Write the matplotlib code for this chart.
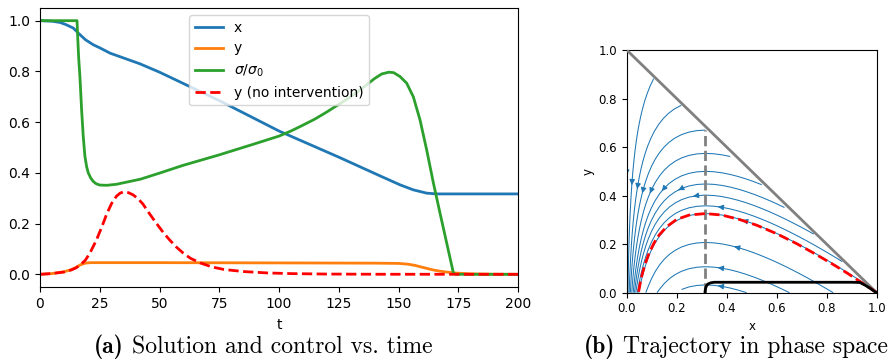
import numpy as np
import matplotlib
matplotlib.use("Agg")
import matplotlib.pyplot as plt

# ---------------- left panel data ----------------
t_x = [0, 5, 8.4, 11, 13.9, 16.7, 19, 22.3, 25, 29.3, 41.8, 50, 75, 100, 125, 142.3,
       150.6, 156.2, 161.8, 166, 170, 180, 200]
x_vals = [1.0, 0.998, 0.993, 0.984, 0.971, 0.945, 0.925, 0.905, 0.893, 0.872, 0.83, 0.797,
          0.685, 0.565, 0.462, 0.388, 0.353, 0.333, 0.32, 0.317, 0.317, 0.317, 0.317]

t_y = [0, 5, 10, 13, 15, 17, 19, 21, 25, 50, 100, 140, 150, 154, 157, 159, 162, 164.6,
       167, 170, 174, 180, 190, 200]
y_vals = [0.0, 0.003, 0.01, 0.018, 0.027, 0.038, 0.044, 0.046, 0.046, 0.046, 0.045, 0.044,
          0.043, 0.04, 0.035, 0.03, 0.023, 0.017, 0.013, 0.009, 0.005, 0.002, 0.0005, 0.0]

t_sigma = [0, 15.5, 15.7, 16.2, 16.7, 17.4, 18.1, 18.8, 19.5, 20.2, 21.2, 22.3, 23.5, 25,
           28, 32, 36, 42, 50, 60, 75, 90, 100, 105, 110, 115, 120, 125, 130, 135, 140,
           143, 146, 148, 150.6, 153.4, 156.2, 159, 161.8, 164.6, 167.4, 170.2, 173, 174, 200]
sigma_vals = [1.0, 1.0, 0.95, 0.85, 0.78, 0.65, 0.543, 0.465, 0.425, 0.40, 0.38, 0.366,
              0.357, 0.352, 0.351, 0.355, 0.363, 0.375, 0.399, 0.43, 0.471, 0.515, 0.545,
              0.565, 0.588, 0.612, 0.64, 0.67, 0.70, 0.735, 0.772, 0.79, 0.797, 0.795,
              0.78, 0.754, 0.70, 0.609, 0.49, 0.36, 0.24, 0.122, 0.004, 0.0, 0.0]

t_noint = [0, 5, 10, 13, 15, 17, 19, 20.9, 23.6, 26, 28, 30, 32, 33.5, 35, 37, 39, 41, 43,
           45, 48, 51, 54, 57, 60, 63, 67, 72, 77, 85, 95, 105, 120, 140, 200]
y_noint = [0.0, 0.003, 0.009, 0.017, 0.025, 0.038, 0.056, 0.084, 0.135, 0.19, 0.24, 0.28,
           0.308, 0.32, 0.325, 0.322, 0.313, 0.298, 0.278, 0.25, 0.21, 0.172, 0.138,
           0.108, 0.083, 0.063, 0.045, 0.029, 0.019, 0.011, 0.0055, 0.0028, 0.001,
           0.0003, 0.0]

legend_labels = ['x', 'y', r'$\sigma/\sigma_0$', 'y (no intervention)']

# ---------------- right panel data ----------------
x_threshold = 0.315           # herd-immunity threshold (dashed line)
threshold_top = 0.67
noint_px = [1.0, 0.97, 0.93, 0.88, 0.82, 0.75, 0.68, 0.6, 0.52, 0.45, 0.38, 0.315,
            0.25, 0.2, 0.16, 0.13, 0.11, 0.09, 0.075, 0.063, 0.055, 0.047]
noint_py = [0.0, 0.021, 0.048, 0.082, 0.12, 0.162, 0.202, 0.243, 0.278, 0.302, 0.32,
            0.326, 0.32, 0.302, 0.272, 0.238, 0.206, 0.164, 0.122, 0.08, 0.045, 0.0]
traj_px = [0.313, 0.314, 0.316, 0.32, 0.327, 0.337, 0.35, 0.6, 0.9, 0.933, 0.955,
           0.975, 0.99, 1.0]
traj_py = [0.0, 0.01, 0.02, 0.03, 0.037, 0.041, 0.043, 0.043, 0.043, 0.042, 0.03,
           0.017, 0.006, 0.0]
stream_start_x = [0.0, 0.108, 0.218, 0.315, 0.315, 0.315, 0.315, 0.315, 0.315, 0.315,
                  0.315, 0.315, 0.315]
stream_start_y = [0.5, 0.882, 0.772, 0.67, 0.574, 0.50, 0.448, 0.402, 0.358, 0.326,
                  0.207, 0.107, 0.032]

captions = [('(a)', 'Solution and control vs. time'),
            ('(b)', 'Trajectory in phase space')]

# ---------------- figure ----------------
fig = plt.figure(figsize=(8.9, 3.62), dpi=100)

ax1 = fig.add_axes([40/890, 1-287/362, 478/890, 279/362])
ax1.plot(t_x, x_vals, color='C0', lw=2, label=legend_labels[0])
ax1.plot(t_y, y_vals, color='C1', lw=2, label=legend_labels[1])
ax1.plot(t_sigma, sigma_vals, color='C2', lw=2, label=legend_labels[2])
ax1.plot(t_noint, y_noint, color='red', lw=2, ls='--', label=legend_labels[3])
ax1.set_xlim(0, 200)
ax1.set_ylim(-0.05, 1.05)
ax1.set_xticks([0, 25, 50, 75, 100, 125, 150, 175, 200])
ax1.set_yticks([0.0, 0.2, 0.4, 0.6, 0.8, 1.0])
ax1.tick_params(labelsize=10)
ax1.set_xlabel('t', fontsize=10, labelpad=5)
ax1.legend(loc='upper center', fontsize=10)

ax2 = fig.add_axes([626.7/890, 1-292.7/362, 250/890, 242.7/362])
gx = np.linspace(0, 1, 201)
gy = np.linspace(0, 1, 201)
X, Y = np.meshgrid(gx, gy)
r0 = 1.0 / x_threshold
U = -r0 * X * Y
V = r0 * X * Y - Y
mask = (X + Y) > 1 + 1e-9
U = np.ma.array(U, mask=mask)
V = np.ma.array(V, mask=mask)
starts = np.column_stack([stream_start_x, stream_start_y])
ax2.streamplot(gx, gy, U, V, start_points=starts, color='C0', linewidth=0.75,
               arrowsize=0.8, broken_streamlines=False, zorder=1)
ax2.plot([0, 1], [1, 0], color='gray', lw=2, zorder=3)
ax2.plot([x_threshold, x_threshold], [0, threshold_top], color='gray', lw=2,
         ls='--', zorder=3)
ax2.plot(noint_px, noint_py, color='red', lw=2, ls='--', zorder=4)
ax2.plot(traj_px, traj_py, color='black', lw=2, zorder=5)
ax2.set_xlim(0, 1)
ax2.set_ylim(0, 1)
ax2.set_xticks([0.0, 0.2, 0.4, 0.6, 0.8, 1.0])
ax2.set_yticks([0.0, 0.2, 0.4, 0.6, 0.8, 1.0])
ax2.tick_params(labelsize=8.5)
ax2.set_xlabel('x', fontsize=8.5, labelpad=3)
ax2.set_ylabel('y', fontsize=8.5, labelpad=3)

# captions: bold label followed by roman text, centred as a whole
renderer = fig.canvas.get_renderer()
cap_fs = 17
cap_y = 1 - 347/362
for (bold, rest), cx in zip(captions, [263/890, 736/890]):
    tb = fig.text(0, cap_y, bold, family='cmb10', fontsize=cap_fs, va='center', ha='left')
    tr = fig.text(0, cap_y, rest, family='cmr10', fontsize=cap_fs, va='center', ha='left')
    wb = tb.get_window_extent(renderer).width / fig.bbox.width
    wr = tr.get_window_extent(renderer).width / fig.bbox.width
    gap = cap_fs * 0.33 * fig.dpi / 72 / fig.bbox.width
    total = wb + gap + wr
    x0 = cx - total / 2
    tb.set_x(x0)
    tr.set_x(x0 + wb + gap)

fig.savefig('out.png', dpi=100)
